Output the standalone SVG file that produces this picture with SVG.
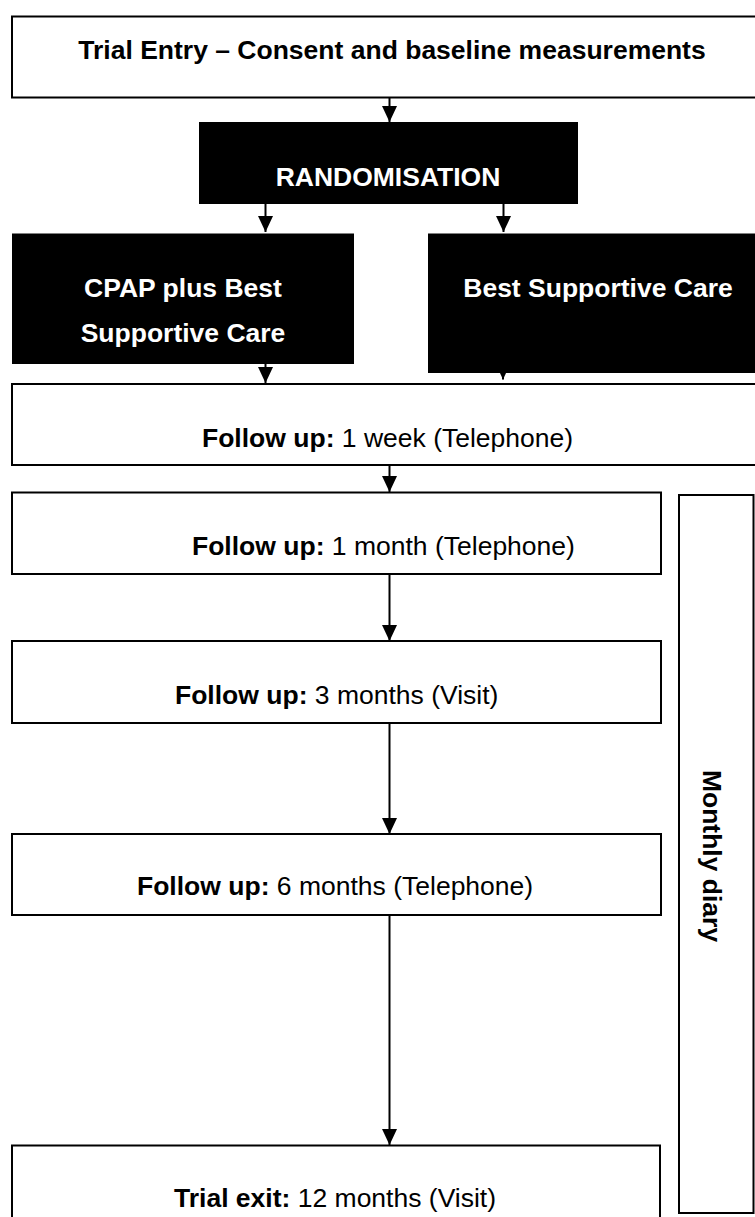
<svg xmlns="http://www.w3.org/2000/svg" width="755" height="1217" viewBox="0 0 755 1217">
<defs>
<style>
text{font-family:"Liberation Sans",Arial,Helvetica,sans-serif;font-size:26.5px;fill:#000}
.b{font-weight:bold}
.w{fill:#fff;font-weight:bold}
.box{fill:#fff;stroke:#000;stroke-width:2}
.dark{fill:#000;stroke:none}
.ln{stroke:#000;stroke-width:2;fill:none}
</style>
<marker id="ah" markerUnits="userSpaceOnUse" markerWidth="16" markerHeight="16" viewBox="0 0 16 16" refX="16" refY="8" orient="auto">
<path d="M0,0.5 L16,8 L0,15.5 Z" fill="#000"/>
</marker>
</defs>
<rect width="755" height="1217" fill="#fff"/>
<g id="connectors">
<line class="ln" x1="389.5" y1="97.5" x2="389.5" y2="122" marker-end="url(#ah)"/>
<line class="ln" x1="265.5" y1="204" x2="265.5" y2="232" marker-end="url(#ah)"/>
<line class="ln" x1="503.5" y1="204" x2="503.5" y2="232" marker-end="url(#ah)"/>
<line class="ln" x1="265.5" y1="364" x2="265.5" y2="383" marker-end="url(#ah)"/>
<line class="ln" x1="503" y1="360" x2="503" y2="379.5" marker-end="url(#ah)"/>
<line class="ln" x1="389.5" y1="465" x2="389.5" y2="492" marker-end="url(#ah)"/>
<line class="ln" x1="389.5" y1="574" x2="389.5" y2="641" marker-end="url(#ah)"/>
<line class="ln" x1="389.5" y1="723" x2="389.5" y2="834" marker-end="url(#ah)"/>
<line class="ln" x1="389.5" y1="915" x2="389.5" y2="1145" marker-end="url(#ah)"/>
</g>
<g id="trial-entry">
<rect class="box" x="12" y="16.5" width="760" height="81"/>
<text class="b" x="392" y="58.5" text-anchor="middle">Trial Entry – Consent and baseline measurements</text>
</g>
<g id="randomisation">
<rect class="dark" x="199" y="122" width="379" height="82"/>
<text class="w" x="388" y="186" text-anchor="middle">RANDOMISATION</text>
</g>
<g id="cpap">
<rect class="dark" x="12" y="233.5" width="342" height="130.5"/>
<text class="w" x="183" y="296.5" text-anchor="middle">CPAP plus Best</text>
<text class="w" x="183" y="342" text-anchor="middle">Supportive Care</text>
</g>
<g id="bsc">
<rect class="dark" x="428" y="233.5" width="340" height="139.5"/>
<text class="w" x="598" y="296.5" text-anchor="middle">Best Supportive Care</text>
</g>
<g id="fu-1week">
<rect class="box" x="12" y="384" width="760" height="81"/>
<text x="202" y="447"><tspan class="b">Follow up:</tspan> 1 week (Telephone)</text>
</g>
<g id="fu-1month">
<rect class="box" x="12" y="492.5" width="649" height="81.5"/>
<text x="192" y="554.5"><tspan class="b">Follow up:</tspan> 1 month (Telephone)</text>
</g>
<g id="fu-3months">
<rect class="box" x="12" y="641" width="649" height="82"/>
<text x="175" y="703.5"><tspan class="b">Follow up:</tspan> 3 months (Visit)</text>
</g>
<g id="fu-6months">
<rect class="box" x="12" y="834" width="649" height="81"/>
<text x="137" y="895"><tspan class="b">Follow up:</tspan> 6 months (Telephone)</text>
</g>
<g id="trial-exit">
<rect class="box" x="12" y="1145.5" width="648" height="100"/>
<text x="174" y="1207"><tspan class="b">Trial exit:</tspan> 12 months (Visit)</text>
</g>
<g id="monthly-diary">
<rect class="box" x="679" y="495" width="74.5" height="718"/>
<text class="b" transform="translate(703,856) rotate(90)" text-anchor="middle">Monthly diary</text>
</g>
</svg>
